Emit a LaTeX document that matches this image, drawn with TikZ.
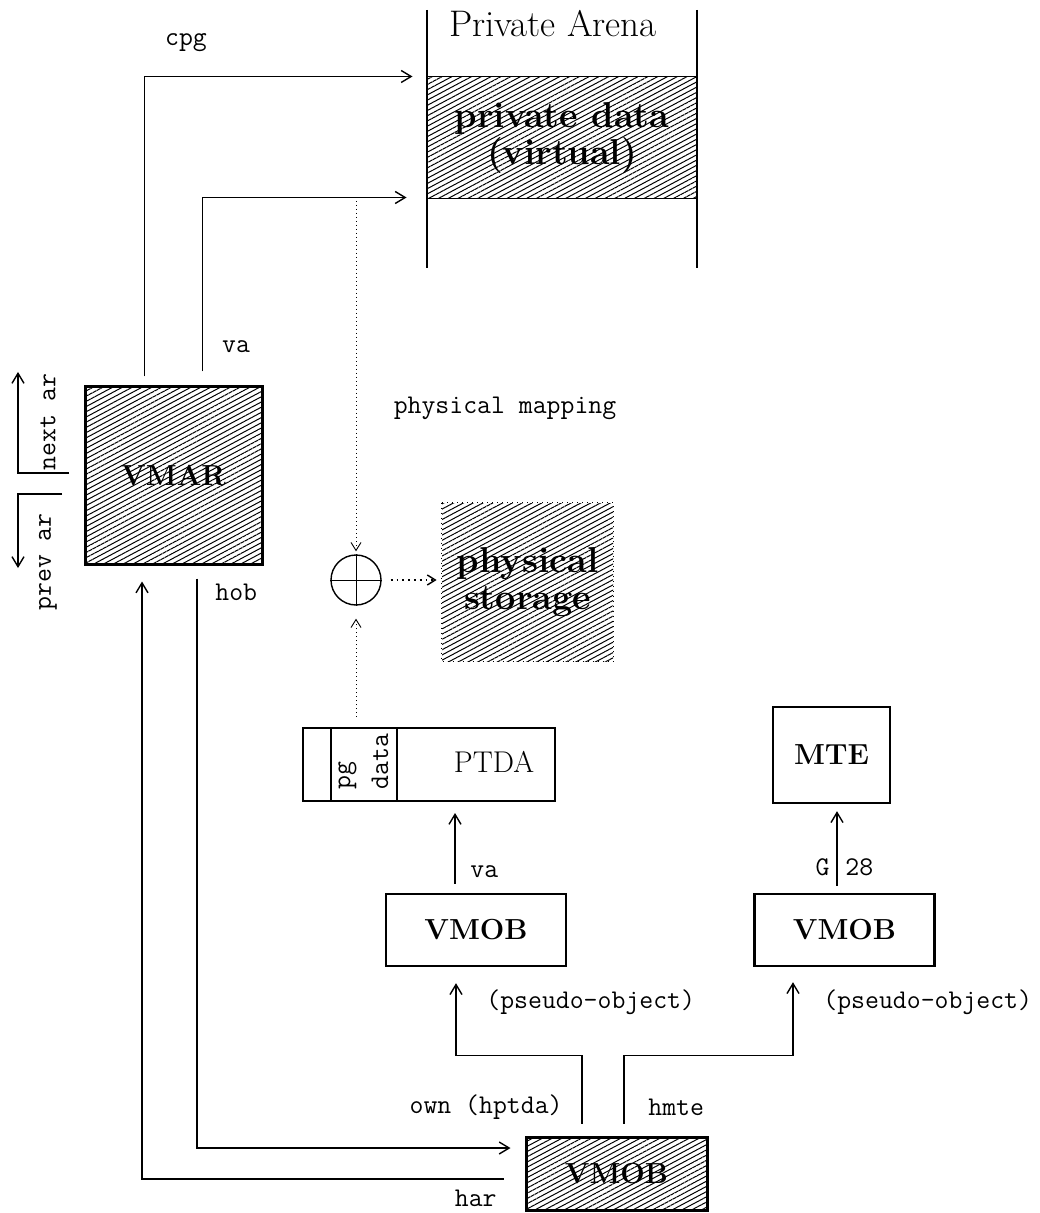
\documentclass[tikz,border=0pt]{standalone}
\usepackage{fontspec}
\usetikzlibrary{arrows.meta,positioning,calc,patterns.meta}
\tikzset{
  hatch/.style={pattern={Lines[angle=28,distance=2.3pt,line width=0.5pt]}},
  objbox/.style={
    draw, line width=1.2pt, inner sep=0pt,
    align=center, font=\fontsize{14.5}{16}\selectfont\bfseries
  },
  bigtext/.style={font=\fontsize{18}{18.5}\selectfont\bfseries, align=center},
  tag/.style={inner sep=0pt, font=\ttfamily\fontsize{13.5}{15}\selectfont},
  link/.style={-{Straight Barb[length=5pt,width=6pt]}, line width=0.7pt},
  dotlink/.style={-{Straight Barb[length=4pt,width=5pt]}, line width=0.45pt,
    dash pattern=on 0.6pt off 1.4pt}
}
\begin{document}
\begin{tikzpicture}[x=0.5pt,y=-0.5pt]
  \useasboundingbox (0,0) rectangle (1039,1213);

  % private arena
  \node[hatch, draw, line width=0.5pt, inner sep=0pt, bigtext,
    minimum width=135pt, minimum height=61pt] (privdata) at (562,138) {private data\\(virtual)};
  \draw[line width=1pt] (427,10) -- (427,268) (697,10) -- (697,268);
  \node[font=\fontsize{18.5}{20}\selectfont] (arena) at (553,24) {Private Arena};

  % objects
  \node[objbox, hatch, line width=1.5pt, minimum width=88.5pt, minimum height=88.5pt] (vmar) at (173.5,475.5) {VMAR};
  \node[hatch, inner sep=0pt, bigtext,
    minimum width=85.5pt, minimum height=79pt] (physstore) at (527.5,582) {physical\\storage};
  \draw[line width=0.5pt, dotted] (physstore.north west) rectangle (physstore.south east);
  \node[circle, draw, line width=0.7pt, minimum size=25pt, inner sep=0pt] (mapop) at (356,580) {};
  \draw[line width=0.4pt] (mapop.north) -- (mapop.south) (mapop.west) -- (mapop.east);

  \node[draw, line width=1pt, minimum width=126pt, minimum height=36.5pt, inner sep=0pt] (ptda) at (429,764.5) {};
  \draw[line width=0.6pt] ($(ptda.north west)+(29,0)$) -- ($(ptda.south west)+(29,0)$)
    ($(ptda.north west)+(95,0)$) -- ($(ptda.south west)+(95,0)$);
  \node[tag, rotate=90, anchor=west] (pgtag) at (347.5,790) {pg};
  \node[tag, rotate=90, anchor=west] (datatag) at (380,790) {data};
  \node[font=\fontsize{15}{16}\selectfont] (ptdaname) at (494,762) {PTDA};

  \node[objbox, minimum width=58.5pt, minimum height=48pt] (mte) at (831.5,755) {MTE};
  \node[objbox, minimum width=90pt, minimum height=36pt] (vmobpt) at (476,930) {VMOB};
  \node[objbox, minimum width=90pt, minimum height=36pt] (vmobmte) at (844.5,930) {VMOB};
  \node[objbox, hatch, line width=1.5pt, minimum width=90.5pt, minimum height=36.5pt] (vmobbase) at (616.5,1173.5) {VMOB};

  % links from VMAR
  \draw[link] ($(vmar.north west)+(61,-9)$) |- ($(privdata.north west)+(-14,0)$);
  \draw[link] ($(vmar.north west)+(119,-14)$) |- ($(privdata.south west)+(-20,-2)$);
  \node[tag] (cpgtag) at (186,43) {cpg};
  \node[tag] (vatag) at (236,347) {va};

  \coordinate (nextar) at (69,473);
  \coordinate (nexttip) at (18,372);
  \draw[link] (nextar) -| (nexttip);
  \node[tag, rotate=90, anchor=west] (nexttag) at (48,471) {next ar};
  \coordinate (prevar) at (62,494);
  \coordinate (prevtip) at (18,568);
  \draw[link] (prevar) -| (prevtip);
  \node[tag, rotate=90, anchor=west] (prevtag) at (48,611) {prev ar};

  % physical mapping
  \coordinate (mapsrc) at (356,201);
  \draw[dotlink, shorten >=1.5pt] (mapsrc) -- (mapop.north);
  \draw[dotlink, shorten >=6.5pt] ($(ptda.north -| mapop)+(0,-10)$) -- (mapop.south);
  \draw[dotlink, line width=0.7pt, dash pattern=on 0.9pt off 2pt, shorten <=4.5pt, shorten >=2.5pt]
    (mapop.east) -- (mapop.east -| physstore.west);
  \node[tag] (maptag) at (505,408) {physical mapping};

  % object links
  \draw[link] ($(vmobpt.north)+(-21,-9)$) -- ($(vmobpt.north |- ptda.south)+(-21,11)$);
  \node[tag, anchor=west] (va2tag) at (470,872) {va};
  \draw[link] ($(vmobmte.north)+(-7.5,-7)$) -- ($(vmobmte.north |- mte.south)+(-7.5,7)$);
  \node[tag, anchor=east] (gtag) at (830,867) {G};
  \node[tag, anchor=west] (numtag) at (845,867) {28};

  \draw[link] ($(vmobbase.north)+(-34.5,-12)$) -- ++(0,-68) -| ($(vmobpt.south)+(-20,16)$);
  \draw[link] ($(vmobbase.north)+(7.5,-12)$) -- ++(0,-68) -| ($(vmobmte.south)+(-51.5,15)$);
  \node[tag, anchor=west] (pseudo1) at (486,1002) {(pseudo-object)};
  \node[tag, anchor=west] (pseudo2) at (823,1002) {(pseudo-object)};
  \node[tag, anchor=east] (owntag) at (563,1107) {own (hptda)};
  \node[tag, anchor=west] (hmtetag) at (648,1107) {hmte};

  \draw[link] ($(vmar.south)+(23.5,13)$) |- ($(vmobbase.west)+(-14,-25.5)$);
  \draw[link] ($(vmobbase.west)+(-21,5.5)$) -| ($(vmar.south)+(-31.5,16)$);
  \node[tag, anchor=west] (hobtag) at (215,592) {hob};
  \node[tag, anchor=east] (hartag) at (497,1198) {har};
\end{tikzpicture}
\end{document}
